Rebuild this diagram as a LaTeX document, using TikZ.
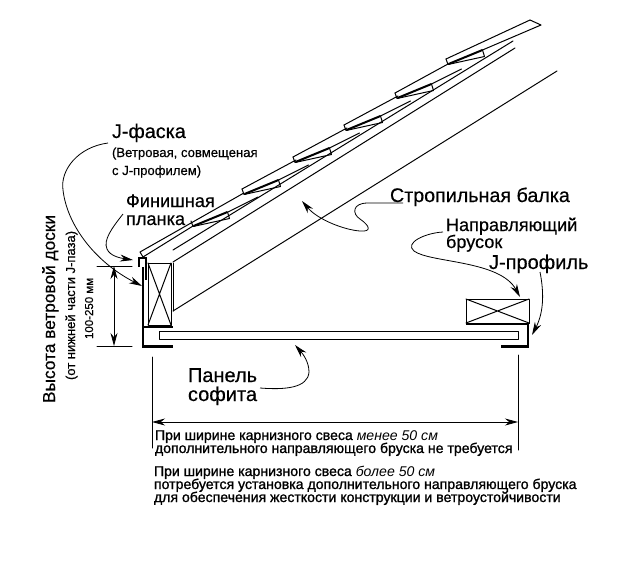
\documentclass[tikz,border=0pt]{standalone}
\usepackage{fontspec}
\setmainfont{Liberation Sans}
\usetikzlibrary{arrows.meta}
\newcommand{\fb}{\addfontfeature{FakeBold=1.2}}
\newcommand{\fs}{\addfontfeature{FakeBold=0.4}}
\tikzset{
  thin line/.style={line width=1pt,line cap=round,line join=round},
  thick line/.style={line width=2.4pt,line join=miter},
  leader/.style={line width=0.8pt,-{Stealth[length=13pt,width=7pt]}},
  lab/.style={anchor=base west,inner sep=0pt,outer sep=0pt},
  vlab/.style={anchor=base west,inner sep=0pt,outer sep=0pt,rotate=90},
  dim/.style={line width=0.8pt,{Stealth[length=13pt,width=7pt]}-{Stealth[length=13pt,width=7pt]}},
}
\begin{document}
\begin{tikzpicture}[x=1pt,y=-1pt]
\useasboundingbox[fill=white] (0,0) rectangle (638,565);
% roof band
\draw[thin line] (143,257) -- (140,252) -- (243,193.5);
\draw[thin line] (143,257) -- (193,226);
\draw[thin line] (173,250) -- (513,41);
\draw[thin line] (173,262) -- (515,48);
\draw[thin line] (173,311) -- (557,71);
% shingles
\foreach \x/\y in {191/221,242/189,293/157,344/125,395/93,446/59}{
  \draw[thin line] (\x,\y) -- (\x+2,\y+5.5) -- (\x+38.5,\y-2.5) -- (\x+36.5,\y-9);
  \draw[line width=2pt] (\x+2.5,\y+5) -- (\x+36.5,\y-9);
}
\foreach \a/\b/\c/\d in {242/189/296/160,293/157/347/128,344/125/398/96,395/93/448/64,446/59/530/20}{
  \draw[thin line] (\a,\b) -- (\c,\d);
}
\foreach \a/\b in {228/212,278.5/180,329.5/148,380.5/116,431.5/84}{
  \draw[thin line] (\a,\b) -- (\a+30,\b-15);
}
\draw[thin line] (482.5,50) -- (541,25) -- (530,20);
% left block
\draw[thin line] (148,263) rectangle (171,325);
\draw[thin line] (148,263) -- (171,325) (171,263) -- (148,325);
\draw[thin line] (173,263) -- (173,311);
% fascia
\draw[line width=2pt] (143,267) -- (143,346);
\draw[thick line] (139,267) -- (139,258) -- (146,258) -- (146,280);
\draw[thick line] (142,327) -- (173,327);
\draw[thick line] (142,346.5) -- (173,346.5);
% soffit panel
\draw[thin line] (518,331) -- (159,331) -- (159,339) -- (518,339) -- cycle;
% right block
\draw[thin line] (466,299) rectangle (529,323);
\draw[thin line] (466,299) -- (529,323) (529,299) -- (466,323);
\draw[thick line] (466,324) -- (528,324);
\draw[line width=1.8pt] (528,323) -- (528,347);
\draw[thick line] (501,346.5) -- (529,346.5);
% dimensions
\coordinate (dimT) at (114,266);
\coordinate (dimB) at (114,346);
\draw[thin line] (97,266) -- (132,266);
\draw[thin line] (97,346) -- (132,346);
\draw[dim] (dimT) -- (dimB);
\coordinate (wL) at (152,422);
\coordinate (wR) at (518,422);
\draw[thin line] (152,357) -- (152,448);
\draw[thin line] (518,355) -- (518,450);
\draw[dim] (wL) -- (wR);
% labels
\node[lab,font=\fontsize{19.8}{21}\selectfont\fs] (jf) at (112,138) {J-фаска};
\node[lab,font=\fontsize{13.1}{15}\selectfont\fs] (jf2) at (112,157) {(Ветровая, совмещеная};
\node[lab,font=\fontsize{13.1}{15}\selectfont\fs] (jf3) at (112,175) {с J-профилем)};
\node[lab,font=\fontsize{18.2}{20}\selectfont\fs] (fin) at (126,207) {Финишная};
\node[lab,font=\fontsize{18.2}{20}\selectfont\fs] (fin2) at (126,225) {планка};
\node[lab,font=\fontsize{19.7}{21}\selectfont\fs] (str) at (390,202) {Стропильная балка};
\node[lab,font=\fontsize{18.1}{20}\selectfont\fs] (nap) at (446,231) {Направляющий};
\node[lab,font=\fontsize{18.1}{20}\selectfont\fs] (nap2) at (446,248) {брусок};
\node[lab,font=\fontsize{20}{22}\selectfont\fs] (jp) at (489,269) {J-профиль};
\node[lab,font=\fontsize{20}{22}\selectfont\fs] (pan) at (188,382) {Панель};
\node[lab,font=\fontsize{20}{22}\selectfont\fs] (pan2) at (188,401) {софита};
\node[vlab,font=\fontsize{17.3}{19}\selectfont\fs] (h1) at (55,403) {Высота ветровой доски};
\node[vlab,font=\fontsize{13}{15}\selectfont\fs] (h2) at (75,380) {(от нижней части J-паза)};
\node[vlab,font=\fontsize{11.5}{13}\selectfont\fs] (h3) at (93,339) {100-250 мм};
\node[lab,font=\fontsize{14.1}{15}\selectfont] (t1) at (155,440) {{\fb При ширине карнизного свеса} \textit{менее 50 см}};
\node[lab,font=\fontsize{14.1}{15}\selectfont] (t2) at (155,453) {\fb дополнительного направляющего бруска не требуется};
\node[lab,font=\fontsize{14.1}{15}\selectfont] (t3) at (154,476) {{\fb При ширине карнизного свеса} \textit{более 50 см}};
\node[lab,font=\fontsize{14.1}{15}\selectfont] (t4) at (154,489) {\fb потребуется установка дополнительного направляющего бруска};
\node[lab,font=\fontsize{14.1}{15}\selectfont] (t5) at (154,502) {\fb для обеспечения жесткости конструкции и ветроустойчивости};
% leaders
\coordinate (a1) at (108,143); \coordinate (a1t) at (142,286);
\draw[leader] (a1) .. controls (78,147) and (60,170) .. (63,190)
  .. controls (67,225) and (95,262) .. (a1t);
\coordinate (a2) at (123,214); \coordinate (a2t) at (133,260);
\draw[leader] (a2) .. controls (112,228) and (103,240) .. (107,249)
  .. controls (110,256) and (120,258) .. (a2t);
\coordinate (a3) at (403,203); \coordinate (a3t) at (302,201);
\draw[leader] (a3) -- (368,203) .. controls (352,203) and (352,214) .. (360,219)
  .. controls (370,226) and (372,232) .. (360,231)
  .. controls (345,230) and (318,220) .. (a3t);
\coordinate (a4) at (443,232); \coordinate (a4t) at (520,297);
\draw[leader] (a4) .. controls (425,233) and (404,243) .. (414,251)
  .. controls (430,263) and (500,260) .. (a4t);
\coordinate (a5) at (540,272); \coordinate (a5t) at (532,335);
\draw[leader] (a5) .. controls (544,292) and (544,312) .. (a5t);
\coordinate (a6) at (260,388); \coordinate (a6t) at (295,345);
\draw[leader] (a6) .. controls (285,390) and (308,388) .. (309,372)
  .. controls (309,362) and (303,354) .. (a6t);
\end{tikzpicture}
\end{document}
